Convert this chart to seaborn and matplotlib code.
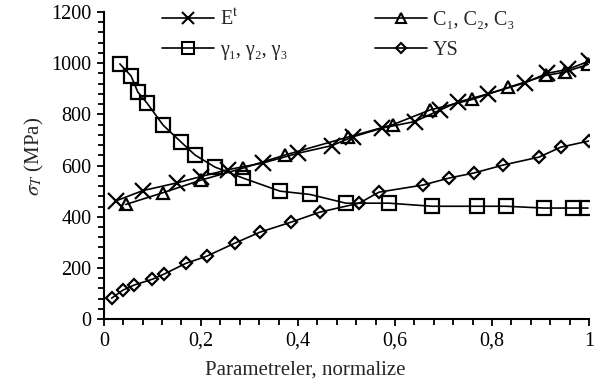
import numpy as np
import pandas as pd
import seaborn as sns
import matplotlib.pyplot as plt
from matplotlib.ticker import MultipleLocator, FixedLocator
from matplotlib.lines import Line2D

# values
et_x = [0.025, 0.08, 0.15, 0.2, 0.256, 0.328, 0.4, 0.47, 0.513, 0.573, 0.641, 0.693, 0.73, 0.792, 0.868, 0.913, 0.957, 1.0]
et_y = [462, 502, 532, 557, 584, 610, 648, 678, 712, 746, 772, 817, 848, 880, 923, 960, 976, 1008]

c_x = [0.045, 0.122, 0.2, 0.287, 0.373, 0.503, 0.596, 0.672, 0.759, 0.833, 0.911, 0.95, 0.998]
c_y = [448, 494, 543, 590, 641, 711, 760, 817, 858, 905, 952, 965, 995]

g_x = [0.033, 0.056, 0.07, 0.089, 0.122, 0.159, 0.188, 0.229, 0.287, 0.363, 0.425, 0.499, 0.588, 0.676, 0.769, 0.829, 0.907, 0.967, 0.998]
g_y = [997, 950, 887, 844, 758, 692, 641, 594, 551, 500, 487, 453, 453, 441, 441, 441, 434, 434, 434]

ys_x = [0.016, 0.039, 0.062, 0.1, 0.124, 0.169, 0.212, 0.27, 0.322, 0.386, 0.445, 0.526, 0.567, 0.658, 0.711, 0.763, 0.823, 0.897, 0.942, 1.0]
ys_y = [82, 113, 133, 156, 176, 218, 246, 297, 340, 379, 418, 453, 496, 524, 551, 571, 602, 633, 672, 696]

labels = [r"E$^\mathrm{t}$", "γ₁, γ₂, γ₃", "C₁, C₂, C₃", "YS"]
xtick_vals = [0, 0.2, 0.4, 0.6, 0.8, 1.0]
xtick_labels = ["0", "0,2", "0,4", "0,6", "0,8", "1"]

sns.set_style("ticks")
plt.rcParams['font.family'] = ['Liberation Serif', 'DejaVu Serif']
plt.rcParams['mathtext.fontset'] = 'stix'

fig = plt.figure(figsize=(6.11, 3.85), dpi=100)
ax = fig.add_axes([0.170, 0.171, 0.794, 0.798])

series = [
    (et_x, et_y, 'x', 11, labels[0]),
    (g_x, g_y, 's', 10, labels[1]),
    (c_x, c_y, '^', 9, labels[2]),
    (ys_x, ys_y, 'D', 6.5, labels[3]),
]
handles = []
for xs, ys, mk, ms, lab in series:
    df = pd.DataFrame({'x': xs, 'y': ys})
    sns.lineplot(data=df, x='x', y='y', ax=ax, color='black', linewidth=1.2,
                 marker=mk, markersize=ms, markerfacecolor='none',
                 markeredgecolor='black', markeredgewidth=1.6,
                 sort=False, estimator=None)
    handles.append(Line2D([], [], color='black', linewidth=1.2, marker=mk,
                          markersize=ms * 0.8, markerfacecolor='none',
                          markeredgecolor='black', markeredgewidth=1.5, label=lab))

ax.set_xlim(0, 1)
ax.set_ylim(0, 1200)
ax.xaxis.set_major_locator(FixedLocator(xtick_vals))
ax.set_xticklabels(xtick_labels)
ax.xaxis.set_minor_locator(MultipleLocator(0.04))
ax.yaxis.set_major_locator(MultipleLocator(200))
ax.yaxis.set_minor_locator(MultipleLocator(40))
ax.tick_params(which='both', direction='out', width=1.3, labelsize=14.5, colors='black')
ax.tick_params(which='major', length=5, pad=4)
ax.tick_params(which='minor', length=4)
for s in ['left', 'bottom']:
    ax.spines[s].set_linewidth(1.5)
    ax.spines[s].set_color('black')
sns.despine(ax=ax)

ax.set_xlabel("Parametreler, normalize", fontsize=15)
ax.xaxis.set_label_coords(0.416, -0.135)
ax.set_ylabel(r"$\sigma_T$ (MPa)", fontsize=15)
ax.yaxis.set_label_coords(-0.12, 0.528)

ax.legend(handles=handles, ncol=2, loc='upper left', bbox_to_anchor=(0.12, 1.01),
          frameon=False, fontsize=14.5, handlelength=2.6, handletextpad=0.3,
          columnspacing=4.3, labelspacing=0.55, borderaxespad=0, borderpad=0)

fig.savefig("out.png", dpi=100)
